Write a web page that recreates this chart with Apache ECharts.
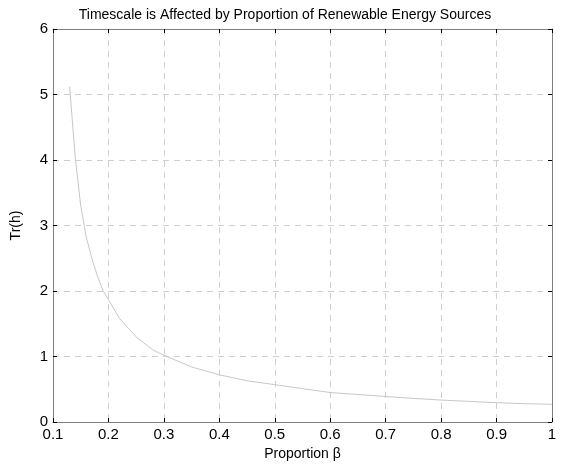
<!DOCTYPE html>
<html>
<head>
<meta charset="utf-8">
<script src="https://cdn.jsdelivr.net/npm/echarts@6/dist/echarts.min.js"></script>
<style>html,body{margin:0;padding:0;background:#fff}#c{width:564px;height:468px}</style>
</head>
<body>
<div id="c"></div>
<script>
var beta = [0.13,0.14,0.15,0.16,0.17,0.18,0.19,0.20,0.22,0.25,0.28,0.30,0.35,0.40,0.45,0.50,0.55,0.60,0.65,0.70,0.75,0.80,0.85,0.90,0.95,1.00];
var tr   = [5.12,4.05,3.30,2.82,2.50,2.23,2.01,1.87,1.58,1.30,1.10,1.02,0.84,0.72,0.63,0.57,0.51,0.45,0.42,0.39,0.36,0.335,0.315,0.295,0.28,0.27];
var xTicks = [0.1,0.2,0.3,0.4,0.5,0.6,0.7,0.8,0.9,1];
var yTicks = [0,1,2,3,4,5,6];

var font = 'Liberation Sans, Arial, sans-serif';
var axisCol = '#7f7f7f';
var chart = echarts.init(document.getElementById('c'), null, {renderer:'canvas'});
var pts = beta.map(function(b,i){return [b,tr[i]];});
function fmtX(v){ return v===1 ? '1' : v.toFixed(1); }
chart.setOption({
  animation:false,
  backgroundColor:'#ffffff',
  title:{text:'Timescale is Affected by Proportion of Renewable Energy Sources',left:280,top:3,textAlign:'center',
    textStyle:{fontFamily:font,fontSize:14,fontWeight:'normal',color:'#000'}},
  grid:{left:53,right:12,top:29,bottom:46,containLabel:false},
  xAxis:[{type:'value',min:0.1,max:1,interval:0.1,position:'bottom',
    name:'Proportion β',nameLocation:'middle',nameGap:24,
    nameTextStyle:{fontFamily:font,fontSize:14,color:'#000'},
    axisLine:{onZero:false,lineStyle:{color:axisCol,width:1}},
    axisTick:{inside:true,length:4,lineStyle:{color:'#000'}},
    axisLabel:{fontFamily:font,fontSize:15,color:'#000',margin:5,formatter:fmtX},
    splitLine:{show:true,lineStyle:{color:'#cfcfcf',type:[6,5],width:1}}},
   {type:'value',min:0.1,max:1,interval:0.1,position:'top',
    axisLine:{onZero:false,lineStyle:{color:axisCol,width:1}},
    axisTick:{inside:true,length:4,lineStyle:{color:'#000'}},
    axisLabel:{show:false},splitLine:{show:false}}],
  yAxis:[{type:'value',min:0,max:6,interval:1,position:'left',
    name:'Tr(h)',nameLocation:'middle',nameGap:30,nameRotate:90,
    nameTextStyle:{fontFamily:font,fontSize:14,color:'#000'},
    axisLine:{show:true,onZero:false,lineStyle:{color:axisCol,width:1}},
    axisTick:{show:true,inside:true,length:4,lineStyle:{color:'#000'}},
    axisLabel:{fontFamily:font,fontSize:15,color:'#000',margin:5},
    splitLine:{show:true,lineStyle:{color:'#cfcfcf',type:[6,5],width:1}}},
   {type:'value',min:0,max:6,interval:1,position:'right',
    axisLine:{show:true,onZero:false,lineStyle:{color:axisCol,width:1}},
    axisTick:{show:true,inside:true,length:4,lineStyle:{color:'#000'}},
    axisLabel:{show:false},splitLine:{show:false}}],
  series:[{type:'line',data:pts,showSymbol:false,smooth:false,
    lineStyle:{color:'#c8c8c8',width:1},z:5}]
});
</script>
</body>
</html>
